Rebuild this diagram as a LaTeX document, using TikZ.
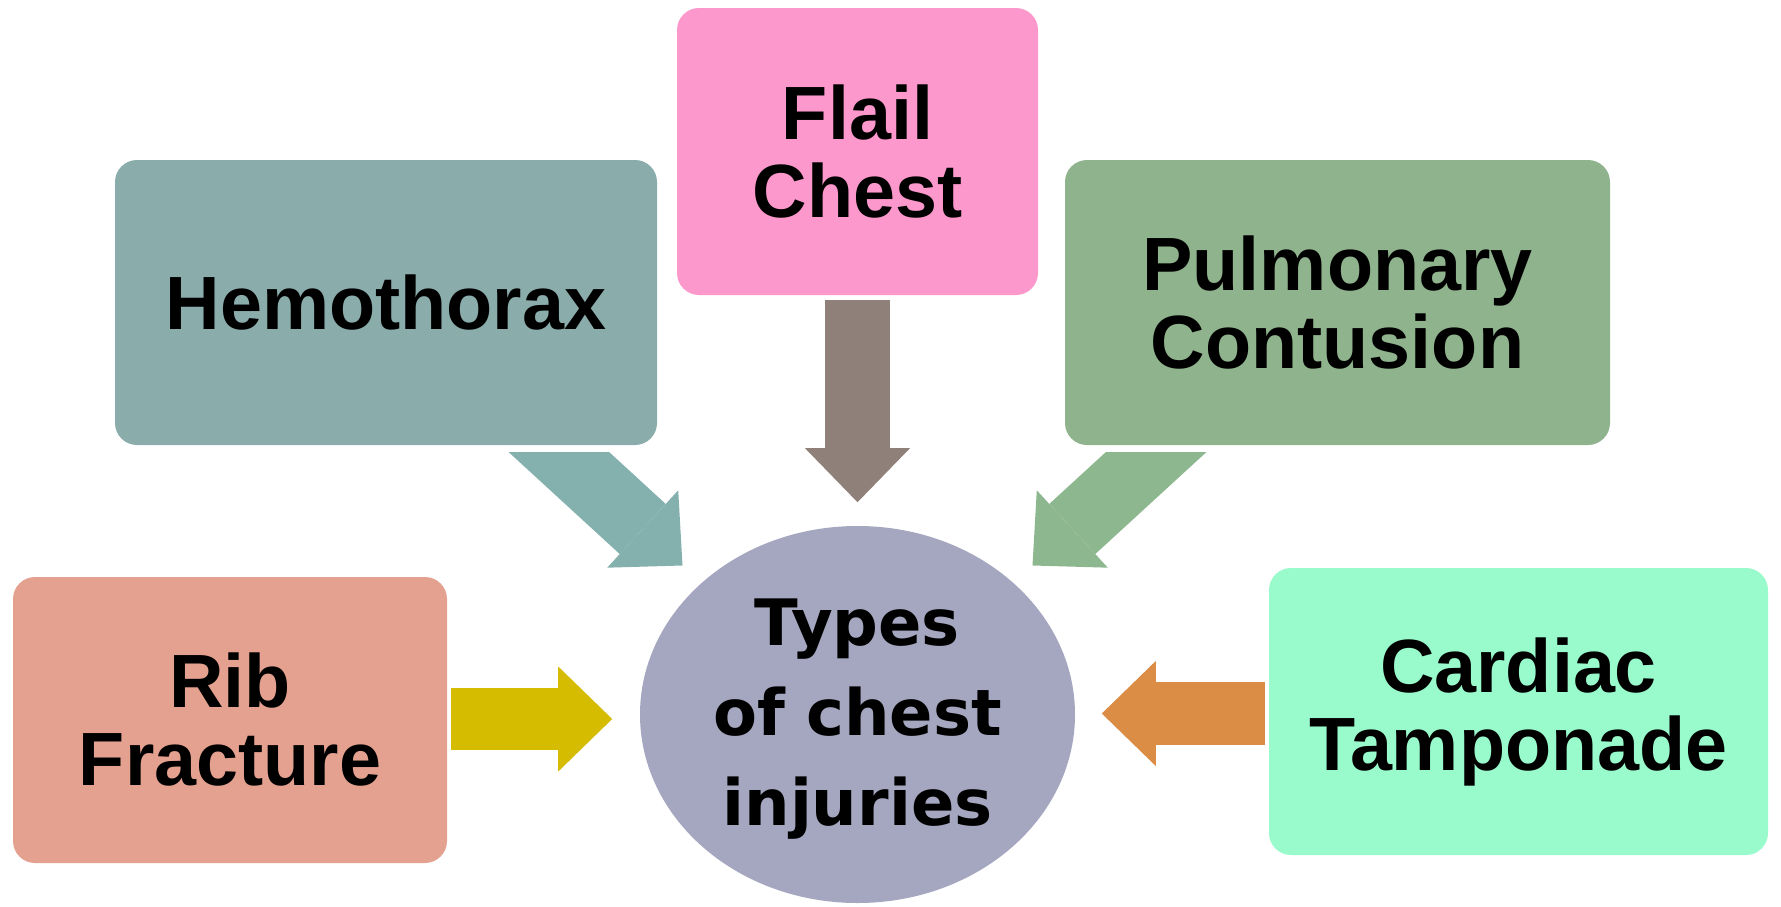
\documentclass[tikz,border=0pt]{standalone}
\usepackage{fontspec}
\setmainfont{Liberation Sans}
\newfontfamily\cfont{DejaVu Sans}
\usetikzlibrary{shapes.geometric,arrows.meta,calc}
\definecolor{hemoC}{HTML}{8AACAA}
\definecolor{hemoA}{HTML}{84B1AD}
\definecolor{flailC}{HTML}{FC98CB}
\definecolor{flailA}{HTML}{8F8079}
\definecolor{pulmC}{HTML}{8FB38C}
\definecolor{pulmA}{HTML}{8DB88F}
\definecolor{ribC}{HTML}{E5A18F}
\definecolor{ribA}{HTML}{D6BC00}
\definecolor{cardC}{HTML}{99FBCC}
\definecolor{cardA}{HTML}{DB8D45}
\definecolor{circC}{HTML}{A4A7BF}
\begin{document}
\begin{tikzpicture}[x=1pt,y=-1pt,
  box/.style={rounded corners=22pt, align=center, inner sep=0pt,
    font=\fontsize{75.5}{78}\selectfont\bfseries, text=black},
  hub/.style={ellipse, align=center, inner sep=0pt,
    font=\cfont\fontsize{64}{90}\selectfont\bfseries, text=black},
  blockarrow/.style={line width=#1, -{Triangle[length=54pt,width=105pt,line width=0pt]}},
  blockarrow/.default=65pt]
\fill[white] (0,0) rectangle (1781,906);
\useasboundingbox (0,0) rectangle (1781,906);

\node[box, fill=hemoC, minimum width=542pt, minimum height=285pt] (hemo) at (386,302.5) {Hemothorax};
\node[box, fill=flailC, minimum width=361pt, minimum height=287pt] (flail) at (857.5,151.5) {Flail\\Chest};
\node[box, fill=pulmC, minimum width=545pt, minimum height=285pt] (pulm) at (1337.5,302.5) {Pulmonary\\Contusion};
\node[box, fill=ribC, minimum width=434pt, minimum height=286pt] (rib) at (230,720) {Rib\\Fracture};
\node[box, fill=cardC, minimum width=499pt, minimum height=287pt] (card) at (1518.5,711.5) {Cardiac\\Tamponade};
\node[hub, fill=circC, minimum width=435pt, minimum height=377pt] (hub) at (857.5,714.5) {};
\node[hub, text width=420pt] (hubtext) at ($(hub.center)+(0,5)$) {Types\\of chest\\injuries};

% arrow end points
\coordinate (flailTail) at ($(flail.south)+(0,5)$);
\coordinate (flailTip) at ($(flail.south)+(0,207)$);
\coordinate (ribTail) at ($(rib.east)+(4,-1)$);
\coordinate (ribTip) at ($(rib.east)+(165,-1)$);
\coordinate (cardTail) at ($(card.west)+(-4,2)$);
\coordinate (cardTip) at ($(card.west)+(-167,2)$);
\coordinate (hemoTip) at ($(hub.center)+(-175,-149)$);
\coordinate (hemoTail) at ($(hub.center)+(-333,-294)$);
\coordinate (pulmTip) at ($(hub.center)+(175,-149)$);
\coordinate (pulmTail) at ($(hub.center)+(333,-294)$);

\draw[blockarrow, draw=flailA, fill=flailA] (flailTail) -- (flailTip);
\draw[blockarrow=62pt, draw=ribA, fill=ribA] (ribTail) -- (ribTip);
\draw[blockarrow=63pt, draw=cardA, fill=cardA] (cardTail) -- (cardTip);
\begin{scope}
  \clip ($(hemo.south west)+(0,7)$) rectangle ($(pulm.south east)+(0,200)$);
  \draw[blockarrow=68pt, draw=hemoA, fill=hemoA] (hemoTail) -- (hemoTip);
  \draw[blockarrow=68pt, draw=pulmA, fill=pulmA] (pulmTail) -- (pulmTip);
\end{scope}
\end{tikzpicture}
\end{document}
